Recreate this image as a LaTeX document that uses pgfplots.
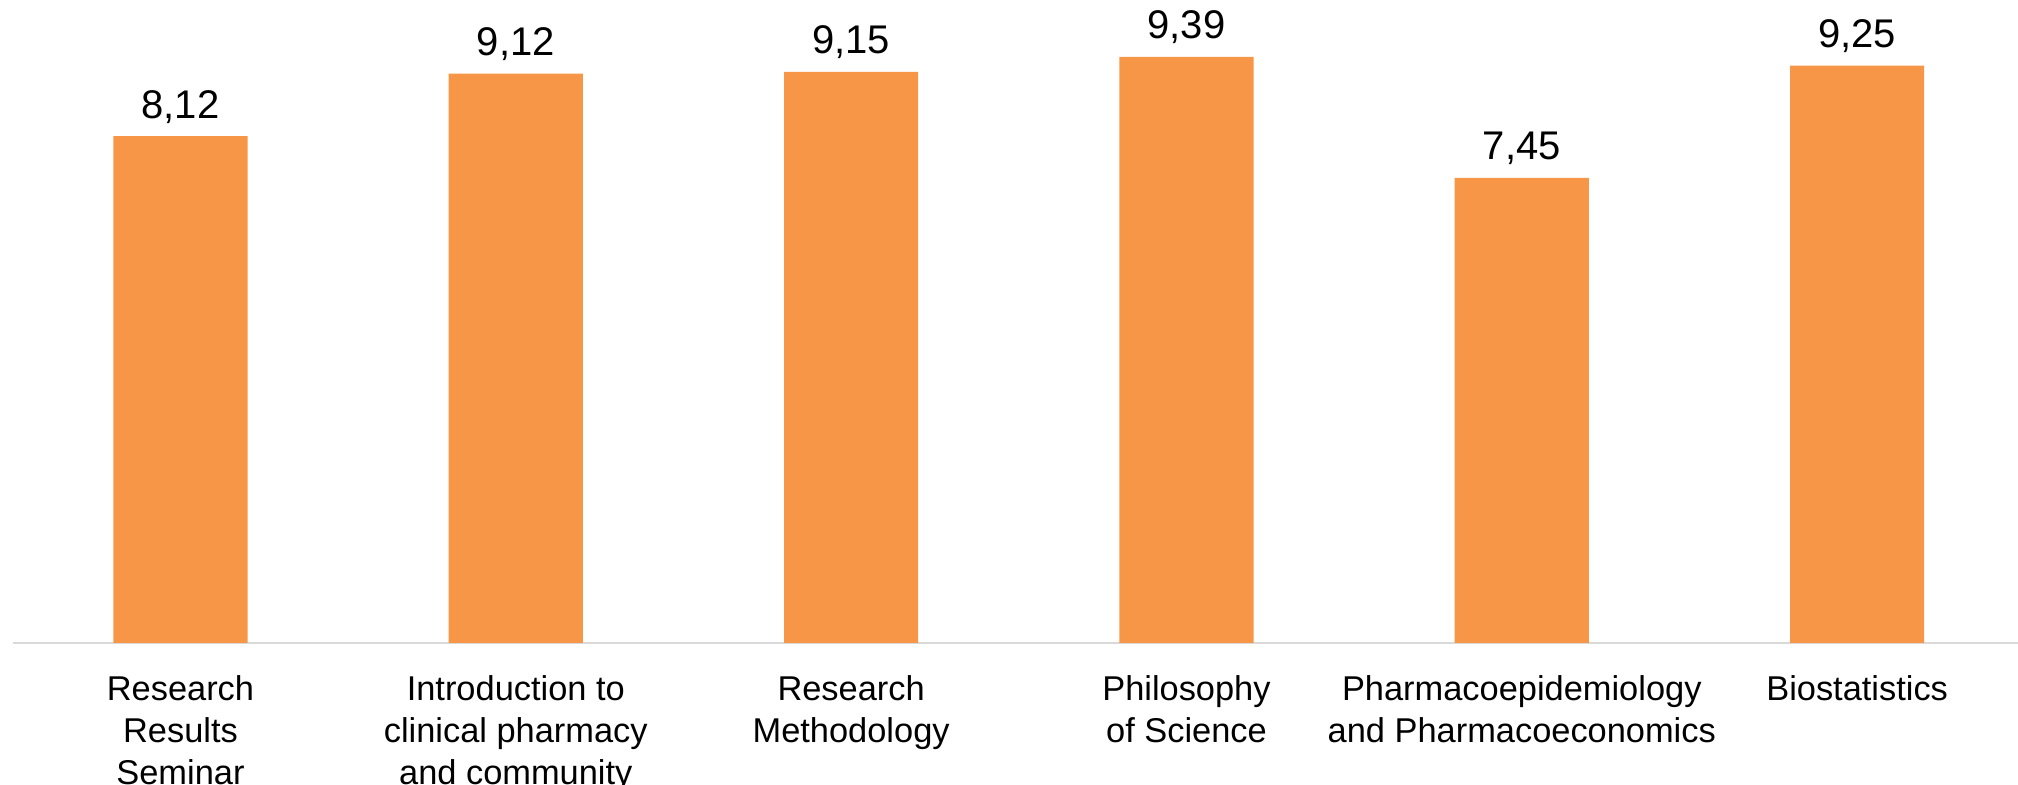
\documentclass[border=0pt]{standalone}
\usepackage{fontspec}
\setmainfont{Liberation Sans}
\usepackage{pgfplots}
\pgfplotsset{compat=1.18}
\usepackage{pgfplotstable}

\definecolor{barorange}{HTML}{F79646}
\definecolor{axisgray}{HTML}{D9D9D9}

% mean grade per course
\pgfplotstableread{
x  grade
0  8.12
1  9.12
2  9.15
3  9.39
4  7.45
5  9.25
}\grades

\begin{document}
\begin{tikzpicture}
\begin{axis}[
    scale only axis,
    width=1006pt, height=321.5pt,
    ybar, bar width=0.4,
    xmin=-0.5, xmax=5.5,
    ymin=0, ymax=10.3,
    axis x line*=bottom,
    hide y axis,
    x axis line style={axisgray, line width=1.3pt, -},
    xtick=data,
    major tick length=0pt,
    xticklabels={{Research\\Results\\Seminar},
                 {Introduction to\\clinical pharmacy\\and community},
                 {Research\\Methodology},
                 {Philosophy\\of Science},
                 {Pharmacoepidemiology\\and Pharmacoeconomics},
                 {Biostatistics}},
    xticklabel style={align=center, anchor=north, inner sep=0pt, yshift=-16pt,
                      font=\fontsize{17.2}{21}\selectfont},
    nodes near coords,
    every node near coord/.append style={anchor=base, inner sep=0pt, yshift=9pt,
                      font=\fontsize{20}{24}\selectfont, text=black},
    /pgf/number format/use comma,
    /pgf/number format/fixed,
    /pgf/number format/fixed zerofill,
    /pgf/number format/precision=2,
    /pgf/number format/assume math mode=true,
    clip=false,
]
\addplot[draw=none, fill=barorange] table[x=x, y=grade] {\grades};
\end{axis}
\pgfresetboundingbox
\path[use as bounding box] ([shift={(-6.4pt,-71pt)}]current axis.south west)
    rectangle ([shift={(-6.4pt,-71pt)}]current axis.south west) ++(1009pt,392.5pt);
\end{tikzpicture}
\end{document}
